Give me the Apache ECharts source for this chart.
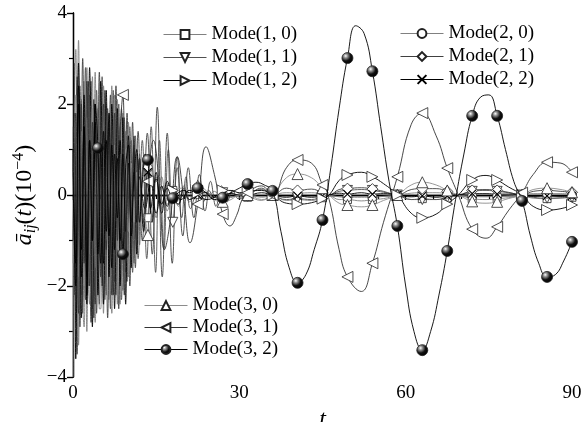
<!DOCTYPE html>
<html><head><meta charset="utf-8">
<script src="https://cdn.jsdelivr.net/npm/echarts@6/dist/echarts.min.js"></script>
<style>html,body{margin:0;padding:0;background:#fff}#c{width:583px;height:422px}</style>
</head><body><div id="c"></div>
<script>
// ---- data ----
const T_FINE = [0,0.25,0.5,0.75,1,1.25,1.5,1.75,2,2.25,2.5,2.75,3,3.25,3.5,3.75,4,4.25,4.5,4.75,5,5.25,5.5,5.75,6,6.25,6.5,6.75,7,7.25,7.5,7.75,8,8.25,8.5,8.75,9,9.25,9.5,9.75,10,10.25,10.5];
const T_EARLY_A = [0,0.5,1,1.5,2,2.5,3,3.5,4,4.5,5,5.5,6,6.5,7,7.5,8,8.5,9,9.5,10,10.5,11,11.5,12];
const T_EARLY_B = [0.25,0.75,1.25,1.75,2.25,2.75,3.25,3.75,4.25,4.75,5.25,5.75,6.25,6.75,7.25,7.75,8.25,8.75,9.25,9.75,10.25,10.75,11.25,11.75];
const T_LATE = [31.5,34,36,38.5,40.5,43,45,46.2,48,49.5,52,54,56,58.5,61,63,65.5,67.5,69.5,72,74.5,76.5,78.5,81,83,85.5,88,90];
const MARKER_T = [0,4.5,9,13.5,18,22.5,27,31.5,36,40.5,45,49.5,54,58.5,63,67.5,72,76.5,81,85.5,90];
const X_TICKS = [0,30,60,90];
const Y_TICKS = [-4,-2,0,2,4];

// Mode(1,0)
const m10_t = [...T_FINE, 11,11.5,12, 12.75,13.5,14.25,15,16,17,18,19,20,21,22.5,24,25.5,27,28.5,30, ...T_LATE];
const m10_y = [-4.0,2.0,3.2,-1.5,-3.3,1.2,2.1,-2.4,-2.9,0.8,2.8,-1.9,-2.4,1.1,2.6,-2.2,-2.8,0.6,1.9,-2.5,-2.5,1.4,2.4,-1.0,-2.2,0.9,1.8,-2.1,-2.6,1.3,2.2,-0.9,-2.4,0.7,1.5,-1.8,-2.1,0.5,1.4,-1.3,-1.8,0.6,1.2,
  -1.5,0.9,-1.1,
  0.8,-0.5,0.6,-0.5,0.4,-0.35,0.1,-0.25,0.2,-0.15,0.05,-0.1,0.08,-0.05,0.05,-0.05,
  -0.05,-0.12,-0.02,-0.12,-0.1,-0.12,-0.06,-0.02,-0.1,-0.1,-0.13,-0.1,-0.08,-0.02,-0.1,-0.08,-0.1,-0.07,-0.02,-0.08,-0.1,-0.08,-0.06,-0.02,-0.07,-0.08,-0.07,-0.05];
// Mode(1,1)
const m11_t = [...T_EARLY_B, 12.5,13.3,14.1,14.9,15.6,16.4,17.2,18,18.8,19.6,20.4,21.2,22.5,23.5,24.5,25.5,27,28.5,30, ...T_LATE];
const m11_y = [2.9,-3.5,2.4,-2.6,2.8,-2.0,2.5,-2.7,2.3,-2.4,2.6,-2.3,1.9,-2.5,2.3,-2.2,2.0,-2.3,1.7,-1.9,1.5,-1.7,1.3,-1.4,
  1.2,-1.4,1.5,-1.7,1.2,-1.2,1.0,-0.6,0.6,-0.5,0.4,-0.3,0.1,-0.15,0.1,-0.1,0.05,-0.05,0.03,
  0.05,0.12,0,-0.1,-0.08,-0.1,-0.03,0,0.08,0.1,0.12,0.1,0.06,0,-0.1,-0.1,-0.1,-0.05,0,0.08,0.1,0.08,0.05,0,-0.05,-0.07,-0.06,-0.05];
// Mode(1,2)
const m12_t = [...T_EARLY_A, 13,14,15,16,17,18,19.5,21,22.5,24,25.5,27,28.5,30, ...T_LATE];
const m12_y = [1.0,-1.5,2.0,-1.2,1.5,-1.8,1.2,-1.0,1.6,-1.3,1.0,-1.5,1.2,-0.9,1.1,-1.2,0.8,-1.0,0.9,-0.8,0.7,-0.6,0.5,-0.6,0.4,
  -0.3,0.3,-0.4,0.2,-0.25,0.1,-0.1,0.1,0.05,-0.1,-0.05,0.1,0.1,0.05,
  0.08,0.1,0,-0.18,-0.2,-0.17,-0.08,0,0.32,0.44,0.5,0.4,0.25,0,-0.4,-0.5,-0.42,-0.2,0,0.33,0.43,0.33,0.18,0,-0.25,-0.33,-0.3,-0.22];
// Mode(2,0)
const m20_t = [...T_FINE, 11,11.5,12, 12.75,13.5,14.25,15,16,17,18,19,20,21,22.5,24,25.5,27,28.5,30, ...T_LATE];
const m20_y = [1.5,-1.2,-2.8,1.0,3.4,0.3,-2.2,-0.6,2.5,1.2,-3.0,-0.8,2.2,0.4,-2.5,-1.3,2.7,0.9,-2.1,-0.3,2.3,1.1,-2.6,-0.7,2.0,0.5,-2.3,-1.0,2.4,0.8,-1.9,-0.2,2.1,0.6,-2.4,-0.9,1.8,0.3,-1.7,-0.6,1.6,0.4,-1.5,
  1.2,-1.2,0.9,
  -0.7,0.6,-0.5,0.4,-0.3,0.25,0.0,-0.2,0.15,-0.1,0.02,0.06,-0.05,0.02,0.03,0.0,
  0.02,-0.05,0,0.05,0.04,0.05,0.02,0,-0.04,-0.05,-0.05,-0.05,-0.03,0,0.04,0.05,0.05,0.03,0,-0.03,-0.04,-0.03,-0.02,0,0.03,0.03,0.03,0.02];
// Mode(2,1)
const m21_t = [...T_EARLY_B, 12.5,13.4,14.3,15.2,16.1,17,17.9,18.8,19.8,20.8,21.8,22.8,23.8,24.8,25.8,26.8,27.8,28.8,29.8, ...T_LATE];
const m21_y = [-2.2,2.6,-2.9,3.0,-2.3,2.5,-2.8,2.1,-2.6,2.7,-2.0,2.3,-2.7,2.2,-2.2,2.4,-2.5,1.9,-2.2,1.8,-2.0,1.6,-1.6,1.4,
  -1.0,1.36,-1.3,1.93,-1.8,1.36,-1.5,0.84,-0.9,0.6,-0.5,0.45,-0.35,0.3,-0.25,0.2,-0.15,0.1,-0.08,
  -0.02,0.15,0,0.15,0.1,0.13,0.05,0,0.12,0.14,0.16,0.13,0.08,0,0.12,0.14,0.14,0.08,0,0.1,0.12,0.1,0.06,0,0.08,0.1,0.08,0.06];
// Mode(2,2)
const m22_t = [...T_FINE, 11,11.5,12, 12.75,13.5,14.25,15,16,17,18,19,20,21,22.5,24,25.5,27,28.5,30, ...T_LATE];
const m22_y = [0.5,1.8,-3.6,-0.9,2.9,1.0,-2.7,-1.2,2.2,0.7,-2.4,-0.5,2.8,1.3,-2.9,-1.0,2.0,0.4,-2.2,-0.8,2.5,0.9,-2.4,-1.1,2.3,0.6,-1.8,-0.3,2.0,0.8,-2.5,-0.9,1.9,0.5,-2.0,-0.6,1.7,0.3,-2.4,-0.7,1.3,0.5,-1.6,
  1.1,-1.3,0.8,
  -0.8,0.5,-0.6,0.5,-0.4,0.3,-0.05,-0.2,0.15,-0.1,0.0,0.05,-0.05,0.0,0.03,0.0,
  0,0.05,0,-0.05,-0.02,-0.05,-0.02,0,0.04,0.02,0.05,0.02,0.03,0,-0.04,-0.02,-0.05,-0.02,0,0.03,0.03,0.02,0.02,0,-0.03,-0.02,-0.03,-0.02];
// Mode(3,0)
const m30_t = [...T_EARLY_A, 12.75,13.5,14.25,15,16,17,18,19.5,21,22.5,24,25.5,27,28.5,30, ...T_LATE];
const m30_y = [-1.5,2.2,-1.8,1.4,-2.0,1.7,-1.3,1.9,-1.6,1.2,-1.5,1.6,-1.0,1.3,-1.4,1.1,-1.2,0.9,-1.0,1.0,-0.8,0.7,-0.6,0.5,-0.5,
  -0.5,-0.88,-0.3,0.3,0.2,-0.2,0.05,0.15,0.1,0.2,0.1,-0.1,-0.15,-0.1,0.0,
  0.0,-0.1,0,0.38,0.46,0.38,0.15,0,-0.18,-0.22,-0.26,-0.22,-0.12,0,0.22,0.28,0.22,0.1,0,-0.14,-0.18,-0.15,-0.08,0,0.12,0.15,0.12,0.06];
// Mode(3,1)
const m31_t = [...T_EARLY_A, 12.75,13.5,14.5,15.5,16.5,17.5,18.8,20,21.1,22.5,24,25.5,27,28.3,29.5,30.5, ...T_LATE];
const m31_y = [-1.0,1.8,-2.6,2.0,-1.5,2.5,-2.0,1.6,-2.4,1.0,-1.8,2.0,-1.2,1.5,-2.2,1.8,-1.0,1.4,2.2,-1.5,1.2,-0.8,1.3,-1.0,0.8,
  -0.6,0.3,1.2,0.3,-1.2,-0.6,0.84,-0.1,-1.05,-0.2,1.06,0.45,-0.42,-0.68,-0.45,-0.1,
  0.05,0.2,0,0.6,0.77,0.7,0.22,-0.1,-1.2,-1.8,-2.12,-1.5,-0.6,0.4,1.55,1.8,1.3,0.59,0,-0.75,-0.95,-0.7,-0.35,0.05,0.45,0.72,0.7,0.5];
// Mode(3,2)
const m32_t = [0,0.5,1,1.5,2,2.5,3,3.5,4,4.5,5,5.5,6,6.5,7,7.5,8,8.5,9,9.5,10,10.5,11,11.5,12,12.5,13,13.5,
  14,15,16,17,18,19,20,21,22.5,24,25.5,27,28.5,30,31.5,33,34.5,36,37.5,39,40.5,42,43.5,45,46.5,48,49.5,51,52.5,54,
  55.5,57,58.5,60,61.5,63,64.5,66,67.5,69,70.5,72,73.5,75,76.5,78,79.5,81,82.5,84,85.5,87,88.5,90];
const m32_y = [0.5,-2.0,2.4,-1.8,1.5,-2.2,1.2,-1.0,2.0,1.03,-1.5,1.4,-0.8,1.8,-1.6,0.9,-0.5,1.2,-1.3,0.6,1.1,-0.9,0.4,1.0,-0.6,0.3,0.9,0.77,
  -0.3,0.35,-0.2,0.15,-0.07,0.05,0.1,0.05,0.15,0.05,-0.1,-0.06,0.05,0.15,0.24,0.28,0.22,0.09,-0.8,-1.6,-1.93,-1.75,-1.2,-0.55,0.6,1.9,3.01,3.72,3.55,2.72,
  1.5,0.3,-0.68,-2.0,-3.0,-3.41,-3.0,-2.2,-1.23,-0.1,0.9,1.74,2.15,2.2,1.74,1.0,0.3,-0.13,-0.9,-1.5,-1.8,-1.75,-1.45,-1.03];

const LEGEND1 = ['Mode(1, 0)','Mode(1, 1)','Mode(1, 2)'];
const LEGEND2 = ['Mode(2, 0)','Mode(2, 1)','Mode(2, 2)'];
const LEGEND3 = ['Mode(3, 0)','Mode(3, 1)','Mode(3, 2)'];

// ---- build ----
const FONT = 'Liberation Serif';
function pts(ts, ys, tMin) {
  const n = Math.min(ts.length, ys.length), out = [];
  for (let i = 0; i < n; i++) {
    const isM = ts[i] >= tMin - 1e-6 && MARKER_T.some(m => Math.abs(m - ts[i]) < 1e-6);
    out.push(isM ? {value:[ts[i], ys[i]]} : {value:[ts[i], ys[i]], symbol:'none'});
  }
  return out;
}
const sphere = {type:'radial', x:0.35, y:0.32, r:0.7, colorStops:[{offset:0,color:'#ffffff'},{offset:0.22,color:'#9a9a9a'},{offset:0.6,color:'#111'},{offset:1,color:'#000'}]};
function mk(name, ts, ys, tMin, lineColor, symbol, size, rotate, fill, z) {
  const isPath = symbol.indexOf('path') === 0;
  return {
    type:'line', name, data: pts(ts, ys, tMin), smooth:0.45, showSymbol:true, showAllSymbol:true,
    symbol, symbolSize:size, symbolRotate:rotate, z: z,
    lineStyle:{color:lineColor, width:0.9},
    itemStyle:{color:fill, borderColor: isPath ? '#000' : '#222', borderWidth: isPath ? 1.1 : 0.8},
    emphasis:{disabled:true}, animation:false
  };
}
const CROSS = 'path://M0,0L10,10M0,10L10,0';
const series = [
  mk(LEGEND1[0], m10_t, m10_y, 13.5, '#808080', 'rect', 8, 0, '#fff', 2),
  mk(LEGEND1[1], m11_t, m11_y, 13.5, '#505050', 'triangle', 10, 180, '#fff', 2),
  mk(LEGEND2[0], m20_t, m20_y, 13.5, '#808080', 'circle', 9, 0, '#fff', 2),
  mk(LEGEND2[1], m21_t, m21_y, 13.5, '#404040', 'diamond', 11, 0, '#fff', 2),
  mk(LEGEND2[2], m22_t, m22_y, 13.5, '#000', CROSS, 8, 0, '#000', 2),
  mk(LEGEND3[0], m30_t, m30_y, 13.5, '#8c8c8c', 'triangle', 11, 0, '#fff', 3),
  mk(LEGEND1[2], m12_t, m12_y, 13.5, '#000', 'triangle', 11, -90, '#fff', 3),
  mk(LEGEND3[1], m31_t, m31_y, 9, '#333', 'triangle', 11, 90, '#fff', 3),
  mk(LEGEND3[2], m32_t, m32_y, 4.5, '#000', 'circle', 11, 0, sphere, 4)
];

const legendBase = {
  orient:'vertical', itemWidth:43, itemHeight:11, itemGap:4,
  lineStyle:{width:1},
  textStyle:{fontFamily:FONT, fontSize:19, color:'#000', padding:[0,0,0,0]},
  selectedMode:false, inactiveColor:'#000'
};
const axisLbl = {fontFamily:FONT, fontSize:19, color:'#000'};
const fmt = v => (v < 0 ? '\u2212' + Math.abs(v) : String(v));
const chart = echarts.init(document.getElementById('c'), null, {renderer:'canvas'});
chart.setOption({
  animation:false,
  backgroundColor:'#fff',
  grid:{left:73, right:11, top:13, bottom:45, containLabel:false, outerBoundsMode:'none'},
  legend:[
    Object.assign({}, legendBase, {data:LEGEND1, left:158, top:20}),
    Object.assign({}, legendBase, {data:LEGEND2, left:395, top:19}),
    Object.assign({}, legendBase, {data:LEGEND3, left:139, top:291, itemGap:3})
  ],
  xAxis:[
    {type:'value', min:X_TICKS[0], max:X_TICKS[X_TICKS.length-1], interval:30, position:'bottom',
     axisLine:{show:true, lineStyle:{color:'#000', width:1.3}},
     axisTick:{show:true, inside:false, length:5, lineStyle:{color:'#000', width:1.2}},
     minorTick:{show:true, splitNumber:6, length:4, lineStyle:{color:'#000', width:1.1}},
     splitLine:{show:false},
     axisLabel:Object.assign({margin:7}, axisLbl),
     name:'t', nameLocation:'middle', nameGap:27,
     nameTextStyle:{fontFamily:FONT, fontStyle:'italic', fontSize:24, color:'#000'}},
    {type:'value', min:X_TICKS[0], max:X_TICKS[X_TICKS.length-1], interval:30, position:'top',
     axisLine:{show:true, lineStyle:{color:'#000', width:1.3}},
     axisTick:{show:true, inside:true, length:5, lineStyle:{color:'#000', width:1.2}},
     minorTick:{show:true, splitNumber:6, length:4, lineStyle:{color:'#000', width:1.1}},
     splitLine:{show:false}, axisLabel:{show:false}}
  ],
  yAxis:[
    {type:'value', min:Y_TICKS[0], max:Y_TICKS[Y_TICKS.length-1], interval:2, position:'left',
     axisLine:{show:true, lineStyle:{color:'#000', width:1.3}},
     axisTick:{show:true, inside:false, length:6, lineStyle:{color:'#000', width:1.2}},
     minorTick:{show:true, splitNumber:2, length:4, lineStyle:{color:'#000', width:1.1}},
     splitLine:{show:false},
     axisLabel:Object.assign({margin:6, formatter:fmt}, axisLbl),
     name:'{a|ā}{s|ij}{n|(}{a|t}{n|)(10}{p|\u22124}{n|)}', nameLocation:'middle', nameRotate:90, nameGap:34,
     nameMoveOverlap:false,
     nameTextStyle:{color:'#000', rich:{
       a:{fontFamily:FONT, fontStyle:'italic', fontSize:24, color:'#000'},
       n:{fontFamily:FONT, fontSize:24, color:'#000'},
       s:{fontFamily:FONT, fontStyle:'italic', fontSize:16, color:'#000', padding:[12,0,0,0]},
       p:{fontFamily:FONT, fontSize:16, color:'#000', padding:[0,0,12,0]}
     }}},
    {type:'value', min:Y_TICKS[0], max:Y_TICKS[Y_TICKS.length-1], interval:2, position:'right',
     axisLine:{show:true, lineStyle:{color:'#000', width:1.3}},
     axisTick:{show:true, inside:true, length:6, lineStyle:{color:'#000', width:1.2}},
     minorTick:{show:true, splitNumber:2, length:4, lineStyle:{color:'#000', width:1.1}},
     splitLine:{show:false}, axisLabel:{show:false}}
  ],
  series: series
});
</script>
</body></html>
